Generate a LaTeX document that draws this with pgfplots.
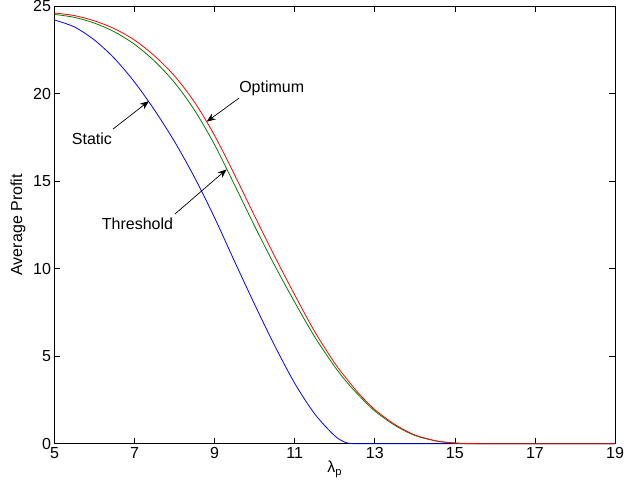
\documentclass[border=0pt]{standalone}
\usepackage{pgfplots}
\pgfplotsset{compat=1.18}
\usepackage{fontspec}
\setmainfont{Liberation Sans}
\usetikzlibrary{arrows.meta}
\definecolor{mgreen}{rgb}{0,0.5,0}

\pgfplotstableread{
x     opt    thr    sta
5.0   24.60  24.52  24.20
5.5   24.45  24.35  23.80
6.0   24.15  24.02  23.05
6.5   23.70  23.52  22.00
7.0   23.05  22.81  20.65
7.5   22.15  21.85  19.05
8.0   21.00  20.62  17.25
8.5   19.50  19.04  15.20
9.0   17.60  17.07  12.90
9.5   15.35  14.77  10.40
10.0  13.00  12.42  7.95
10.5  10.70  10.18  5.60
11.0  8.50   8.08   3.45
11.5  6.40   6.10   1.70
12.0  4.60   4.40   0.45
12.3  3.70   3.52   0.05
12.6  2.87   2.76   0.00
13.0  1.95   1.87   0.00
13.5  1.10   1.05   0.00
14.0  0.50   0.47   0.00
14.5  0.18   0.17   0.00
14.8  0.08   0.07   0.00
15.1  0.03   0.02   0.00
15.4  0.01   0.00   0.00
15.8  0.00   0.00   0.00
17.0  0.00   0.00   0.00
19.0  0.00   0.00   0.00
}\profit

\begin{document}
\begin{tikzpicture}
\path[use as bounding box] (-54.5bp,-49.3bp) rectangle (569.5bp,443.7bp);
\begin{axis}[at={(0,0)}, anchor=south west, scale only axis,
  width=560.5bp, height=437.7bp,
  xmin=5, xmax=19, ymin=0, ymax=25,
  xtick={5,7,...,19}, ytick={0,5,...,25},
  tick align=inside, major tick length=6bp,
  tick style={black, line width=0.6bp},
  axis line style={black, line width=0.8bp},
  ticklabel style={font=\fontsize{16bp}{18bp}\selectfont},
  /pgf/number format/assume math mode=true,
  xlabel={λ\textsubscript{p}}, ylabel={Average Profit},
  every axis x label/.style={at={(axis description cs:0.5,-0.058)}, anchor=center,
    font=\fontsize{16bp}{18bp}\selectfont},
  every axis y label/.style={at={(axis description cs:-0.065,0.5)}, rotate=90, anchor=center,
    font=\fontsize{16bp}{18bp}\selectfont},
  clip=false]
\addplot[blue, line width=0.8bp, smooth] table[x=x, y=sta] {\profit};
\addplot[mgreen, line width=0.8bp, smooth] table[x=x, y=thr] {\profit};
\addplot[red, line width=0.8bp, smooth] table[x=x, y=opt] {\profit};

\begin{scope}[every node/.style={font=\fontsize{16bp}{18bp}\selectfont, inner sep=0pt},
  arr/.style={black, line width=0.7bp, -{Stealth[length=9bp, width=7bp]}}]
\node[anchor=west] at (axis cs:9.61,20.30) {Optimum};
\draw[arr] (axis cs:9.61,19.74) -- (axis cs:8.80,18.39);
\node[anchor=west] at (axis cs:5.43,17.42) {Static};
\draw[arr] (axis cs:6.46,17.97) -- (axis cs:7.36,19.57);
\node[anchor=west] at (axis cs:6.18,12.56) {Threshold};
\draw[arr] (axis cs:8.01,13.12) -- (axis cs:9.30,15.67);
\end{scope}
\end{axis}
\end{tikzpicture}
\end{document}
